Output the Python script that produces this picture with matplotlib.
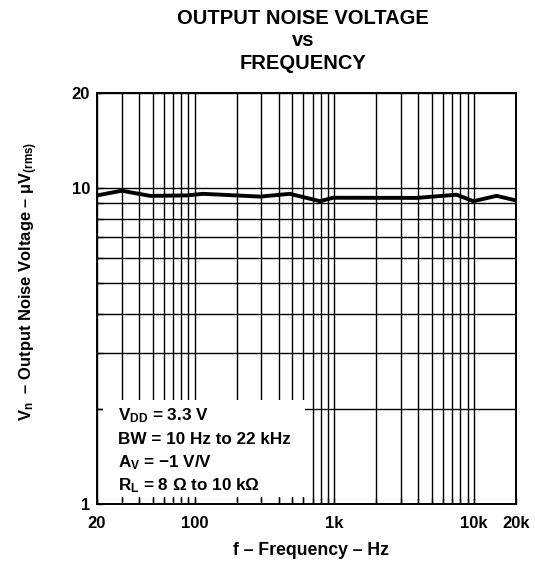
import matplotlib
matplotlib.use('Agg')
import matplotlib.pyplot as plt
from matplotlib.ticker import FixedLocator, NullFormatter
from matplotlib.patches import Rectangle

plt.rcParams['font.family'] = ['Liberation Sans', 'DejaVu Sans']
plt.rcParams['font.weight'] = 'bold'
plt.rcParams['mathtext.fontset'] = 'custom'
plt.rcParams['mathtext.rm'] = 'Liberation Sans:bold'
plt.rcParams['mathtext.it'] = 'Liberation Sans:bold'
plt.rcParams['mathtext.bf'] = 'Liberation Sans:bold'

# data
freq = [20, 30, 48, 88, 115, 295, 480, 790, 980, 3900, 7500, 9900, 14500, 20000]
noise = [9.48, 9.81, 9.45, 9.48, 9.59, 9.40, 9.59, 9.09, 9.32, 9.31, 9.53, 9.09, 9.45, 9.14]

x_major = [20, 100, 1000, 10000, 20000]
x_labels = ['20', '100', '1k', '10k', '20k']
x_minor = [30, 40, 50, 60, 70, 80, 90,
           200, 300, 400, 500, 600, 700, 800, 900,
           2000, 3000, 4000, 5000, 6000, 7000, 8000, 9000]
y_major = [1, 10, 20]
y_labels = ['1', '10', '20']
y_minor = [2, 3, 4, 5, 6, 7, 8, 9]

fig = plt.figure(figsize=(5.35, 5.64), dpi=100)
ax = fig.add_axes([0.1813, 0.1064, 0.7832, 0.7287])

ax.plot(freq, noise, color='black', lw=2.8, zorder=4)

ax.set_xscale('log')
ax.set_yscale('log')
ax.set_xlim(20, 20000)
ax.set_ylim(1, 20)

ax.xaxis.set_major_locator(FixedLocator(x_major))
ax.xaxis.set_minor_locator(FixedLocator(x_minor))
ax.xaxis.set_minor_formatter(NullFormatter())
ax.set_xticklabels(x_labels)
ax.yaxis.set_major_locator(FixedLocator(y_major))
ax.yaxis.set_minor_locator(FixedLocator(y_minor))
ax.yaxis.set_minor_formatter(NullFormatter())
ax.set_yticklabels(y_labels)

ax.tick_params(which='both', direction='in', length=4, width=1)
ax.tick_params(axis='x', which='major', labelsize=12, pad=9)
ax.tick_params(axis='y', which='major', labelsize=12, pad=5)
ax.grid(which='both', color='black', lw=1.0)
for s in ax.spines.values():
    s.set_linewidth(1.4)

# white block behind the conditions text
ax.add_patch(Rectangle((0.014, 0.017), 0.482, 0.236, transform=ax.transAxes,
                       facecolor='white', edgecolor='none', zorder=3))
cond = ['V$_{DD}$ = 3.3 V',
        'BW = 10 Hz to 22 kHz',
        'A$_{V}$ = \u22121 V/V',
        'R$_{L}$ = 8 \u03a9 to 10 k\u03a9']
for i, t in enumerate(cond):
    ax.text(0.05, 0.215 - i * 0.057, t,
            transform=ax.transAxes, fontsize=12.3, fontweight='bold',
            va='center', ha='left', zorder=5)

ax.set_xlabel('f \u2013 Frequency \u2013 Hz', fontsize=12.7, fontweight='bold')
ax.xaxis.set_label_coords(0.51, -0.093)
ax.set_ylabel('V$_{n}$  \u2013 Output Noise Voltage \u2013 \u03bcV$_{(rms)}$',
              fontsize=11.9, fontweight='bold')
ax.yaxis.set_label_coords(-0.135, 0.543)

fig.text(0.567, 0.968, 'OUTPUT NOISE VOLTAGE', ha='center', va='center',
         fontsize=14.5, fontweight='bold')
fig.text(0.567, 0.928, 'vs', ha='center', va='center', fontsize=14.5, fontweight='bold')
fig.text(0.567, 0.887, 'FREQUENCY', ha='center', va='center', fontsize=14.5, fontweight='bold')

fig.savefig('out.png', dpi=100)
